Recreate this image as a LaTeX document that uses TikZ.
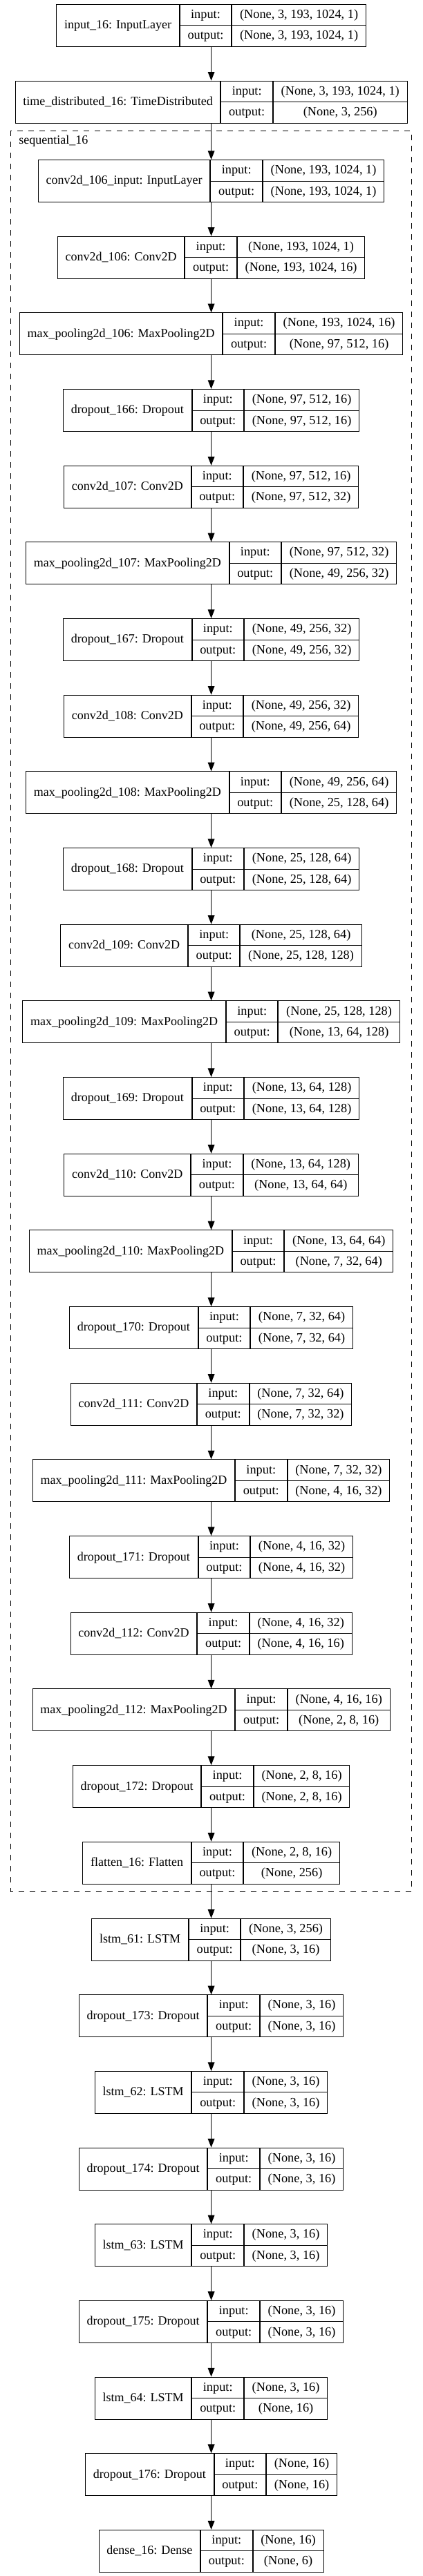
\documentclass[tikz,border=0pt]{standalone}
\usepackage{fontspec}
\setmainfont{Liberation Serif}
\usetikzlibrary{arrows.meta}
\newcommand\kfn{\fontsize{13.5pt}{16pt}\selectfont}
\newcommand\kfv{\fontsize{13.75pt}{22.875pt}\selectfont}
\newcommand\kst{\vrule width 0pt height 10.25pt depth 2.75pt}
\tikzset{
  namef/.style={draw=black,line width=0.75pt,rectangle,inner xsep=8.45pt,inner ysep=0pt,outer sep=0pt,
    minimum height=45.75pt,font=\kfn,anchor=center},
  colf/.style={draw=black,line width=0.75pt,rectangle,align=center,inner xsep=8.45pt,inner ysep=0pt,
    outer sep=0pt,minimum height=45.75pt,font=\kfv,anchor=center},
  divline/.style={draw=black,line width=0.75pt},
  kmatrix/.style={ampersand replacement=\&,anchor=north,inner sep=0pt,outer sep=0pt,
    column sep=0pt,row sep=0pt},
  arr/.style={line width=0.75pt,-{Triangle[length=9.5pt,width=7.3pt]}},
  clusterbox/.style={draw=black,line width=0.75pt,dash pattern=on 6pt off 6pt},
  lbl/.style={font=\kfn,inner sep=0pt,outer sep=0pt,anchor=base west},
}
\newcommand\layerbox[5]{%
  \pgfmathsetmacro\kT{-0.75*(#2)}%
  \matrix[kmatrix] (#1) at (229.2pt,\kT pt) {%
    \node[namef] (#1-n) {\kst #3}; \&
    \node[colf] (#1-io) {\kst input:\\\kst output:}; \&
    \node[colf] (#1-v) {\kst #4\\\kst #5}; \\
  };%
  \draw[divline] (#1-io.west) -- (#1-io.east);
  \draw[divline] (#1-v.west) -- (#1-v.east);
}
\begin{document}
\begin{tikzpicture}
\fill[white] (0,0) rectangle (458.25pt,-2796.75pt);
\useasboundingbox (0,0) rectangle (458.25pt,-2796.75pt);
% cluster
\coordinate (cA) at (11.775pt,-141.975pt);
\coordinate (cB) at (446.6pt,-2053.725pt);
\draw[clusterbox] (cA) rectangle (cB);
\node[lbl] (seqlab) at (20.475pt,-156.2pt) {sequential\_16};
% layers
\layerbox{L1}{5.7}{input\_16: InputLayer}{(None, 3, 193, 1024, 1)}{(None, 3, 193, 1024, 1)}
\layerbox{L2}{116.7}{time\_distributed\_16: TimeDistributed}{(None, 3, 193, 1024, 1)}{(None, 3, 256)}
\layerbox{L3}{231+0*110.67}{conv2d\_106\_input: InputLayer}{(None, 193, 1024, 1)}{(None, 193, 1024, 1)}
\layerbox{L4}{231+1*110.67}{conv2d\_106: Conv2D}{(None, 193, 1024, 1)}{(None, 193, 1024, 16)}
\layerbox{L5}{231+2*110.67}{max\_pooling2d\_106: MaxPooling2D}{(None, 193, 1024, 16)}{(None, 97, 512, 16)}
\layerbox{L6}{231+3*110.67}{dropout\_166: Dropout}{(None, 97, 512, 16)}{(None, 97, 512, 16)}
\layerbox{L7}{231+4*110.67}{conv2d\_107: Conv2D}{(None, 97, 512, 16)}{(None, 97, 512, 32)}
\layerbox{L8}{231+5*110.67}{max\_pooling2d\_107: MaxPooling2D}{(None, 97, 512, 32)}{(None, 49, 256, 32)}
\layerbox{L9}{231+6*110.67}{dropout\_167: Dropout}{(None, 49, 256, 32)}{(None, 49, 256, 32)}
\layerbox{L10}{231+7*110.67}{conv2d\_108: Conv2D}{(None, 49, 256, 32)}{(None, 49, 256, 64)}
\layerbox{L11}{231+8*110.67}{max\_pooling2d\_108: MaxPooling2D}{(None, 49, 256, 64)}{(None, 25, 128, 64)}
\layerbox{L12}{231+9*110.67}{dropout\_168: Dropout}{(None, 25, 128, 64)}{(None, 25, 128, 64)}
\layerbox{L13}{231+10*110.67}{conv2d\_109: Conv2D}{(None, 25, 128, 64)}{(None, 25, 128, 128)}
\layerbox{L14}{231+11*110.67}{max\_pooling2d\_109: MaxPooling2D}{(None, 25, 128, 128)}{(None, 13, 64, 128)}
\layerbox{L15}{231+12*110.67}{dropout\_169: Dropout}{(None, 13, 64, 128)}{(None, 13, 64, 128)}
\layerbox{L16}{231+13*110.67}{conv2d\_110: Conv2D}{(None, 13, 64, 128)}{(None, 13, 64, 64)}
\layerbox{L17}{231+14*110.67}{max\_pooling2d\_110: MaxPooling2D}{(None, 13, 64, 64)}{(None, 7, 32, 64)}
\layerbox{L18}{231+15*110.67}{dropout\_170: Dropout}{(None, 7, 32, 64)}{(None, 7, 32, 64)}
\layerbox{L19}{231+16*110.67}{conv2d\_111: Conv2D}{(None, 7, 32, 64)}{(None, 7, 32, 32)}
\layerbox{L20}{231+17*110.67}{max\_pooling2d\_111: MaxPooling2D}{(None, 7, 32, 32)}{(None, 4, 16, 32)}
\layerbox{L21}{231+18*110.67}{dropout\_171: Dropout}{(None, 4, 16, 32)}{(None, 4, 16, 32)}
\layerbox{L22}{231+19*110.67}{conv2d\_112: Conv2D}{(None, 4, 16, 32)}{(None, 4, 16, 16)}
\layerbox{L23}{231+20*110.67}{max\_pooling2d\_112: MaxPooling2D}{(None, 4, 16, 16)}{(None, 2, 8, 16)}
\layerbox{L24}{231+21*110.67}{dropout\_172: Dropout}{(None, 2, 8, 16)}{(None, 2, 8, 16)}
\layerbox{L25}{231+22*110.67}{flatten\_16: Flatten}{(None, 2, 8, 16)}{(None, 256)}
\layerbox{L26}{2776.7+0*110.63}{lstm\_61: LSTM}{(None, 3, 256)}{(None, 3, 16)}
\layerbox{L27}{2776.7+1*110.63}{dropout\_173: Dropout}{(None, 3, 16)}{(None, 3, 16)}
\layerbox{L28}{2776.7+2*110.63}{lstm\_62: LSTM}{(None, 3, 16)}{(None, 3, 16)}
\layerbox{L29}{2776.7+3*110.63}{dropout\_174: Dropout}{(None, 3, 16)}{(None, 3, 16)}
\layerbox{L30}{2776.7+4*110.63}{lstm\_63: LSTM}{(None, 3, 16)}{(None, 3, 16)}
\layerbox{L31}{2776.7+5*110.63}{dropout\_175: Dropout}{(None, 3, 16)}{(None, 3, 16)}
\layerbox{L32}{2776.7+6*110.63}{lstm\_64: LSTM}{(None, 3, 16)}{(None, 16)}
\layerbox{L33}{2776.7+7*110.63}{dropout\_176: Dropout}{(None, 16)}{(None, 16)}
\layerbox{L34}{2776.7+8*110.63}{dense\_16: Dense}{(None, 16)}{(None, 6)}
% connectors
\foreach \i [evaluate=\i as \j using int(\i+1)] in {1,...,33}
  \draw[arr] (L\i.south) -- (L\j.north);
\end{tikzpicture}
\end{document}
